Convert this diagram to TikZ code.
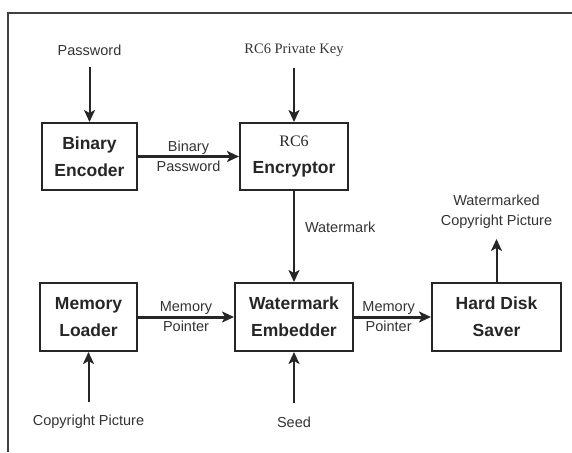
\documentclass[tikz,border=0pt]{standalone}
\usepackage{fontspec}
\setmainfont{Liberation Sans}
\newfontfamily\rcfont{Liberation Serif}
\usetikzlibrary{arrows.meta}

\begin{document}
\begin{tikzpicture}[x=1pt,y=-1pt,
		blk/.style={draw=black!85,line width=2pt,align=center,inner sep=0pt,
			font=\fontsize{17.5}{27}\selectfont\bfseries,text=black!85},
		lbl/.style={align=center,inner sep=0pt,font=\fontsize{14.5}{20}\selectfont,text=black!80},
		arr/.style={draw=black!85,line width=2pt,-{Stealth[length=12pt,width=11pt,inset=3pt]}},
		thickarr/.style={arr,line width=3pt}]
				\useasboundingbox (0,0) rectangle (572,452);
				\draw[black!75,line width=1.6pt] (8,452) -- (8,13) -- (572,13);
				\node[blk,minimum width=95pt,minimum height=67pt] (enc) at (89.5,156.5) {Binary\\Encoder};
				\node[blk,minimum width=108pt,minimum height=67pt] (rc6) at (294,156.5) {{\rcfont\mdseries\fontsize{16}{27}\selectfont RC6}\\Encryptor};
				\node[blk,minimum width=97pt,minimum height=68pt] (ldr) at (88.5,317) {Memory\\Loader};
				\node[blk,minimum width=118pt,minimum height=68pt] (emb) at (294,317) {Watermark\\Embedder};
				\node[blk,minimum width=129pt,minimum height=68pt] (svr) at (496.5,317) {Hard Disk\\Saver};
				\node[lbl] (pw) at (89.5,50) {Password};
				\node[lbl] (key) at (294,50) {\rcfont RC6 Private Key};
				\node[lbl] (cpic) at (88.5,422) {Copyright Picture};
				\node[lbl] (seed) at (294,422) {Seed};
				\node[lbl] (wcp) at (496.5,212) {Watermarked\\Copyright Picture};
				\draw[arr,shorten <=11pt] (pw) -- (enc);
				\draw[arr,shorten <=11pt] (key) -- (rc6);
				\draw[thickarr] (enc) -- node[lbl] {Binary\\Password} (rc6);
				\draw[arr] (rc6) -- node[lbl,pos=0.4,right=10pt] {Watermark} (emb);
				\draw[thickarr] (ldr) -- node[lbl] {Memory\\Pointer} (emb);
				\draw[thickarr] (emb) -- node[lbl,pos=0.45] {Memory\\Pointer} (svr);
				\draw[arr,shorten >=10pt] (svr) -- (wcp);
				\draw[arr,shorten <=13pt] (cpic) -- (ldr);
				\draw[arr,shorten <=13pt] (seed) -- (emb);
			\end{tikzpicture}
\end{document}
